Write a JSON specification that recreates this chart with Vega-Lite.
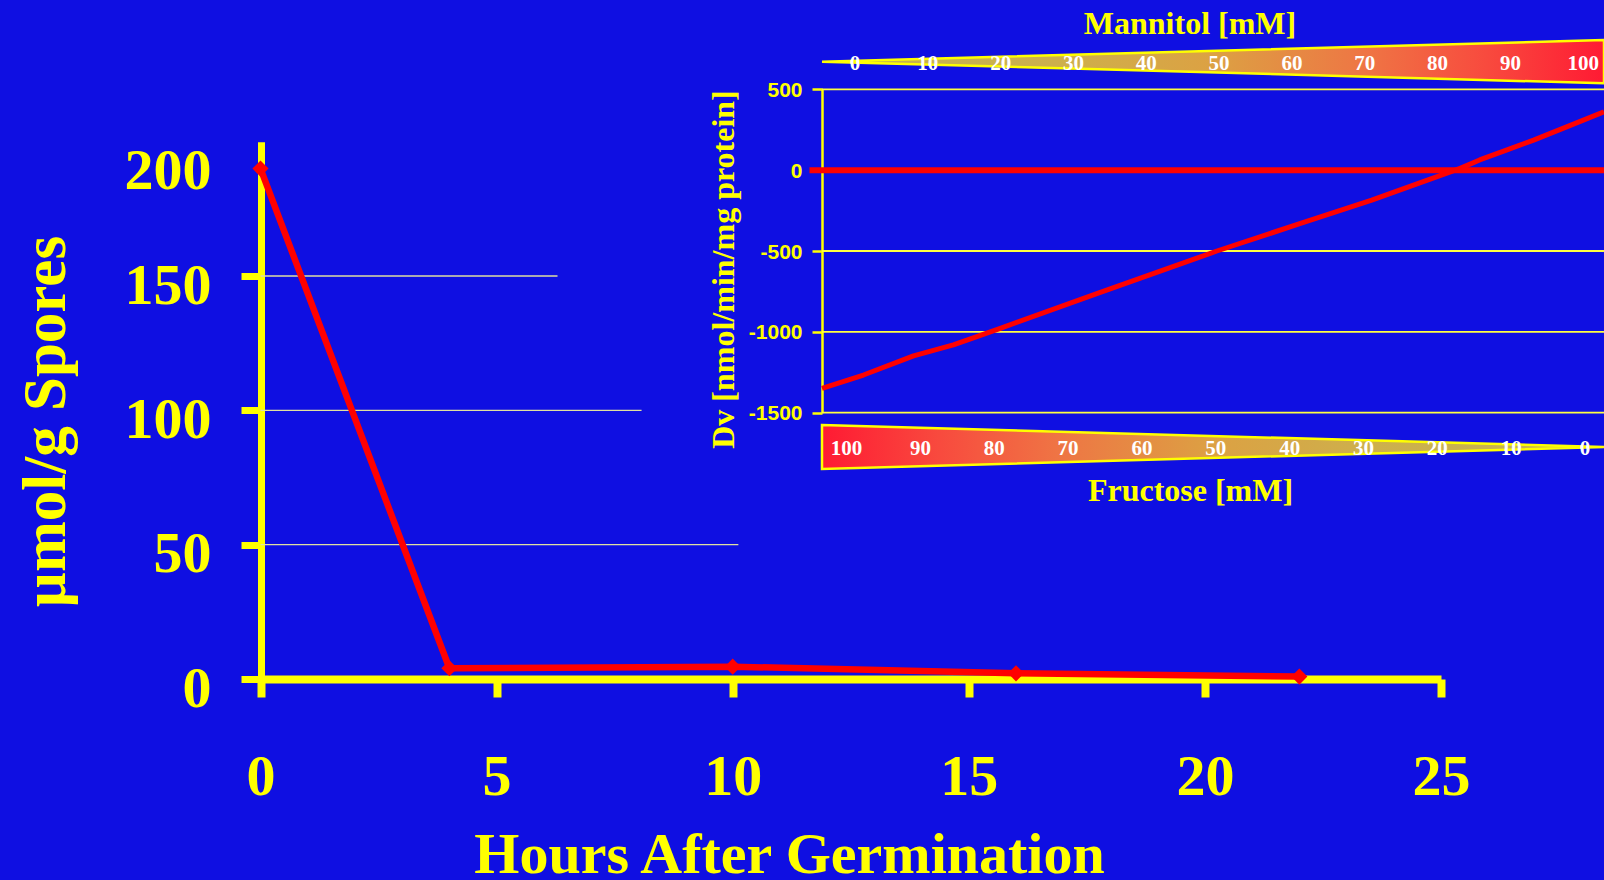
{
  "$schema": "https://vega.github.io/schema/vega-lite/v6.json",
  "width": 1604,
  "height": 880,
  "autosize": {"type": "none"},
  "padding": 0,
  "background": "#0f0fe2",
  "config": {"view": {"stroke": null}},
  "datasets": {
    "spores": [
      {"hour": 0, "umol": 190},
      {"hour": 4, "umol": 4},
      {"hour": 10, "umol": 4.6},
      {"hour": 16, "umol": 2.1},
      {"hour": 22, "umol": 0.9}
    ],
    "main_grid": [
      {"hour": 0, "hour_end": 6.29, "umol": 150},
      {"hour": 0, "hour_end": 8.07, "umol": 100},
      {"hour": 0, "hour_end": 10.12, "umol": 50}
    ],
    "inset_grid": [{"dv": 500}, {"dv": -500}, {"dv": -1000}, {"dv": -1500}],
    "zero_line": [{"dv": 0}],
    "dv_curve": [
      {"mannitol": 0, "dv": -1349},
      {"mannitol": 5.3, "dv": -1267},
      {"mannitol": 11.7, "dv": -1149},
      {"mannitol": 16.8, "dv": -1081},
      {"mannitol": 22.8, "dv": -978},
      {"mannitol": 35.5, "dv": -758},
      {"mannitol": 50.5, "dv": -500},
      {"mannitol": 61.1, "dv": -331},
      {"mannitol": 70.3, "dv": -185},
      {"mannitol": 81.6, "dv": 11},
      {"mannitol": 84.1, "dv": 63},
      {"mannitol": 87.6, "dv": 125},
      {"mannitol": 91.0, "dv": 186},
      {"mannitol": 95.3, "dv": 269},
      {"mannitol": 100, "dv": 361}
    ],
    "mannitol_wedge": [
      {"mannitol": 0, "band_hi": 0, "band_lo": 0},
      {"mannitol": 100, "band_hi": 100, "band_lo": -100}
    ],
    "fructose_wedge": [
      {"mannitol": 0, "band_hi": 100, "band_lo": -100},
      {"mannitol": 100, "band_hi": 0, "band_lo": 0}
    ],
    "wedge_labels": [
      {"mannitol": 0, "fructose": 100},
      {"mannitol": 10, "fructose": 90},
      {"mannitol": 20, "fructose": 80},
      {"mannitol": 30, "fructose": 70},
      {"mannitol": 40, "fructose": 60},
      {"mannitol": 50, "fructose": 50},
      {"mannitol": 60, "fructose": 40},
      {"mannitol": 70, "fructose": 30},
      {"mannitol": 80, "fructose": 20},
      {"mannitol": 90, "fructose": 10},
      {"mannitol": 100, "fructose": 0}
    ]
  },
  "layer": [
    {
      "layer": [
        {
          "data": {"name": "main_grid"},
          "mark": {"type": "rule", "color": "#e0e0a0", "strokeWidth": 1.3},
          "encoding": {
            "x": {
              "field": "hour", "type": "quantitative",
              "scale": {"domain": [0, 25], "range": [260.5, 1441], "nice": false, "zero": false},
              "axis": {
                "orient": "bottom", "offset": -201, "values": [0, 5, 10, 15, 20, 25], "format": "d",
                "grid": false,
                "domainColor": "#ffff00", "domainWidth": 8,
                "tickColor": "#ffff00", "tickWidth": 8, "tickSize": 18,
                "labelFont": "Liberation Serif", "labelFontWeight": "bold", "labelFontSize": 58,
                "labelColor": "#ffff00", "labelPadding": 51, "labelFlush": false, "labelOverlap": false,
                "title": "Hours After Germination",
                "titleFont": "Liberation Serif", "titleFontWeight": "bold", "titleFontSize": 58,
                "titleColor": "#ffff00", "titleX": 789, "titleY": 193,
                "titleAlign": "center", "titleBaseline": "alphabetic"
              }
            },
            "x2": {"field": "hour_end"},
            "y": {
              "field": "umol", "type": "quantitative",
              "scale": {"domain": [0, 200], "range": [679, 141.7], "nice": false, "zero": false},
              "axis": {
                "orient": "left", "offset": -261, "values": [0, 50, 100, 150, 200], "format": "d",
                "grid": false,
                "domainColor": "#ffff00", "domainWidth": 7,
                "tickColor": "#ffff00", "tickWidth": 7, "tickSize": 20,
                "tickOpacity": {"condition": {"test": "datum.value === 200", "value": 0}, "value": 1},
                "labelFont": "Liberation Serif", "labelFontWeight": "bold", "labelFontSize": 58,
                "labelColor": "#ffff00", "labelPadding": 30, "labelAlign": "right", "labelBaseline": "middle",
                "labelOffset": {"condition": {"test": "datum.value === 200", "value": 30}, "value": 10},
                "labelOverlap": false, "labelFlush": false,
                "title": "µmol/g Spores",
                "titleFont": "Liberation Serif", "titleFontWeight": "bold", "titleFontSize": 61,
                "titleColor": "#ffff00", "titleX": -197, "titleY": 421, "titleAngle": 270,
                "titleAlign": "center", "titleBaseline": "alphabetic"
              }
            }
          }
        },
        {
          "data": {"name": "spores"},
          "mark": {"type": "line", "color": "#ff0000", "strokeWidth": 6.5, "strokeJoin": "round"},
          "encoding": {
            "x": {"field": "hour", "type": "quantitative"},
            "y": {"field": "umol", "type": "quantitative"}
          }
        },
        {
          "data": {"name": "spores"},
          "mark": {"type": "point", "shape": "diamond", "filled": true, "color": "#ff0000", "size": 260, "opacity": 1},
          "encoding": {
            "x": {"field": "hour", "type": "quantitative"},
            "y": {"field": "umol", "type": "quantitative"}
          }
        }
      ]
    },
    {
      "layer": [
        {
          "data": {"name": "inset_grid"},
          "mark": {"type": "rule", "color": "#ffff40", "strokeWidth": 1.8},
          "encoding": {
            "x": {"datum": 0, "type": "quantitative",
                  "scale": {"domain": [0, 100], "range": [822, 1604], "nice": false, "zero": false},
                  "axis": null},
            "x2": {"datum": 100},
            "y": {
              "field": "dv", "type": "quantitative",
              "scale": {"domain": [-1500, 500], "range": [412.7, 89.3], "nice": false, "zero": false},
              "axis": {
                "orient": "left", "offset": -822, "values": [-1500, -1000, -500, 0, 500],
                "grid": false, "labelExpr": "'' + datum.value",
                "domainColor": "#ffff00", "domainWidth": 2.5,
                "tickColor": "#ffff00", "tickWidth": 2.5, "tickSize": 10,
                "labelFont": "Liberation Sans", "labelFontWeight": "bold", "labelFontSize": 21,
                "labelColor": "#ffff00", "labelPadding": 10, "labelAlign": "right", "labelBaseline": "middle",
                "labelOffset": 1, "labelOverlap": false, "labelFlush": false,
                "title": "Dv [nmol/min/mg protein]",
                "titleFont": "Liberation Serif", "titleFontWeight": "bold", "titleFontSize": 32,
                "titleColor": "#ffff00", "titleX": -88.7, "titleY": 269, "titleAngle": 270,
                "titleAlign": "center", "titleBaseline": "alphabetic"
              }
            }
          }
        },
        {
          "data": {"name": "zero_line"},
          "mark": {"type": "rule", "color": "#ff0000", "strokeWidth": 6},
          "encoding": {
            "x": {"datum": -1.6, "type": "quantitative"},
            "x2": {"datum": 100},
            "y": {"field": "dv", "type": "quantitative"}
          }
        },
        {
          "data": {"name": "dv_curve"},
          "mark": {"type": "line", "color": "#ff0000", "strokeWidth": 5, "strokeJoin": "round"},
          "encoding": {
            "x": {"field": "mannitol", "type": "quantitative"},
            "y": {"field": "dv", "type": "quantitative"}
          }
        }
      ]
    },
    {
      "data": {"name": "mannitol_wedge"},
      "mark": {
        "type": "area",
        "fill": {
          "gradient": "linear", "x1": 0, "y1": 0, "x2": 1, "y2": 0,
          "stops": [
            {"offset": 0, "color": "#c2b452"},
            {"offset": 0.3, "color": "#cdb04c"},
            {"offset": 0.5, "color": "#dca143"},
            {"offset": 0.7, "color": "#ef7444"},
            {"offset": 0.85, "color": "#f84a3e"},
            {"offset": 1, "color": "#ff1a33"}
          ]
        },
        "fillOpacity": 1,
        "stroke": "#ffff00", "strokeWidth": 2.5
      },
      "encoding": {
        "x": {
          "field": "mannitol", "type": "quantitative",
          "scale": {"domain": [0, 100], "range": [822, 1604], "nice": false, "zero": false},
          "axis": {
            "orient": "top", "offset": 0, "domain": false, "ticks": false, "labels": false, "grid": false,
            "title": "Mannitol [mM]",
            "titleFont": "Liberation Serif", "titleFontWeight": "bold", "titleFontSize": 32,
            "titleColor": "#ffff00", "titleX": 1189.5, "titleY": 33.3, "titleAngle": 0,
            "titleAlign": "center", "titleBaseline": "alphabetic"
          }
        },
        "y": {
          "field": "band_hi", "type": "quantitative",
          "scale": {"domain": [-100, 100], "range": [83.3, 40], "nice": false, "zero": false},
          "axis": null
        },
        "y2": {"field": "band_lo"}
      }
    },
    {
      "data": {"name": "wedge_labels"},
      "mark": {"type": "text", "color": "#ffffff", "font": "Liberation Serif", "fontWeight": "bold",
               "fontSize": 21, "align": "center", "baseline": "middle", "dy": 2},
      "encoding": {
        "x": {"field": "mannitol", "type": "quantitative",
              "scale": {"domain": [0, 100], "range": [855, 1583.2], "nice": false, "zero": false},
              "axis": null},
        "y": {"datum": 0, "type": "quantitative",
              "scale": {"domain": [-100, 100], "range": [83.3, 40], "nice": false, "zero": false},
              "axis": null},
        "text": {"field": "mannitol", "type": "quantitative"}
      }
    },
    {
      "data": {"name": "fructose_wedge"},
      "mark": {
        "type": "area",
        "fill": {
          "gradient": "linear", "x1": 0, "y1": 0, "x2": 1, "y2": 0,
          "stops": [
            {"offset": 0, "color": "#ff1a33"},
            {"offset": 0.15, "color": "#f84a3e"},
            {"offset": 0.3, "color": "#ef7444"},
            {"offset": 0.5, "color": "#dca143"},
            {"offset": 0.7, "color": "#cdb04c"},
            {"offset": 1, "color": "#c2b452"}
          ]
        },
        "fillOpacity": 1,
        "stroke": "#ffff00", "strokeWidth": 2.5
      },
      "encoding": {
        "x": {
          "field": "mannitol", "type": "quantitative",
          "scale": {"domain": [0, 100], "range": [822, 1604], "nice": false, "zero": false},
          "axis": {
            "orient": "bottom", "offset": 0, "domain": false, "ticks": false, "labels": false, "grid": false,
            "title": "Fructose [mM]",
            "titleFont": "Liberation Serif", "titleFontWeight": "bold", "titleFontSize": 32,
            "titleColor": "#ffff00", "titleX": 1190, "titleY": -380, "titleAngle": 0,
            "titleAlign": "center", "titleBaseline": "alphabetic"
          }
        },
        "y": {
          "field": "band_hi", "type": "quantitative",
          "scale": {"domain": [-100, 100], "range": [469, 425], "nice": false, "zero": false},
          "axis": null
        },
        "y2": {"field": "band_lo"}
      }
    },
    {
      "data": {"name": "wedge_labels"},
      "mark": {"type": "text", "color": "#ffffff", "font": "Liberation Serif", "fontWeight": "bold",
               "fontSize": 21, "align": "center", "baseline": "middle", "dy": 2},
      "encoding": {
        "x": {"field": "fructose", "type": "quantitative",
              "scale": {"domain": [0, 100], "range": [1585, 846.6], "nice": false, "zero": false},
              "axis": null},
        "y": {"datum": 0, "type": "quantitative",
              "scale": {"domain": [-100, 100], "range": [469, 425], "nice": false, "zero": false},
              "axis": null},
        "text": {"field": "fructose", "type": "quantitative"}
      }
    }
  ],
  "resolve": {
    "scale": {"x": "independent", "y": "independent"},
    "axis": {"x": "independent", "y": "independent"}
  }
}
